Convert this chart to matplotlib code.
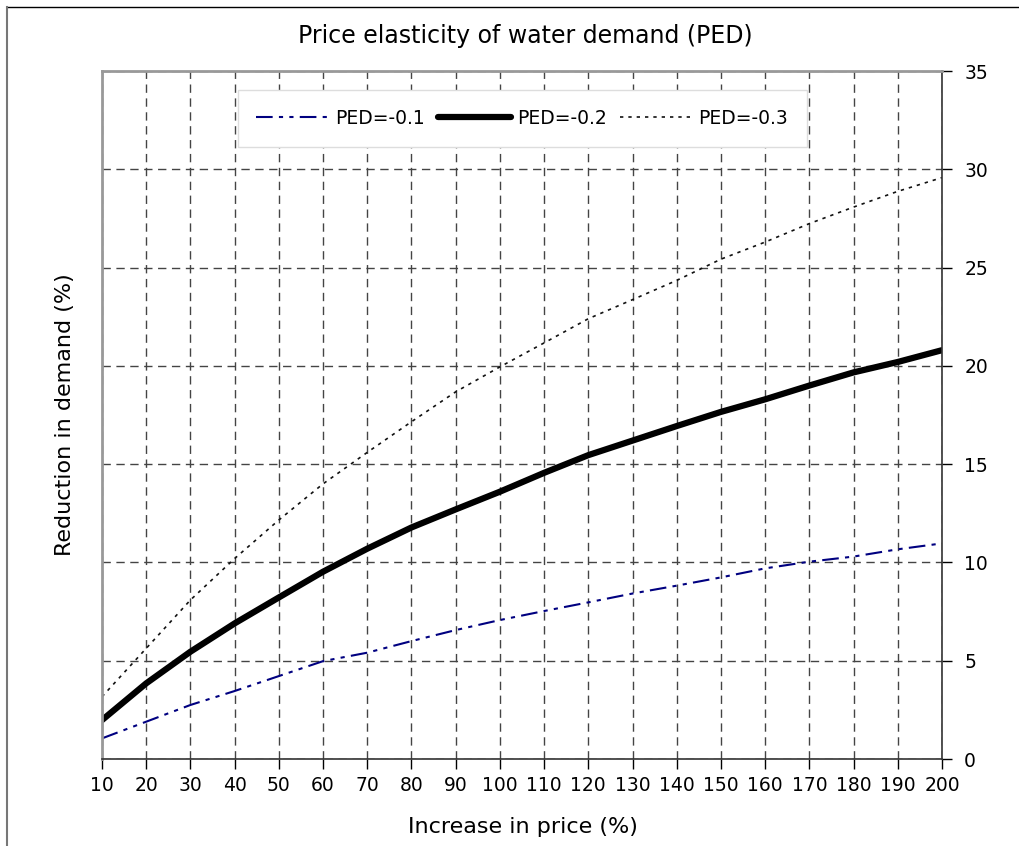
import matplotlib
matplotlib.use("Agg")
import matplotlib.pyplot as plt
from matplotlib.lines import Line2D

# Increase in price (%)
price_increase = list(range(10, 201, 10))

# Reduction in demand (%)
ped_01 = [1.05, 1.9, 2.75, 3.46, 4.22, 4.98, 5.41, 6.0, 6.56, 7.07,
          7.53, 7.97, 8.42, 8.82, 9.24, 9.7, 10.04, 10.3, 10.67, 10.97]
ped_02 = [1.98, 3.85, 5.46, 6.9, 8.22, 9.53, 10.7, 11.78, 12.7, 13.6,
          14.56, 15.46, 16.2, 16.94, 17.66, 18.3, 19.0, 19.67, 20.2, 20.8]
ped_03 = [3.17, 5.63, 8.09, 10.2, 12.16, 14.0, 15.6, 17.16, 18.68, 19.95,
          21.17, 22.4, 23.37, 24.35, 25.43, 26.3, 27.24, 28.08, 28.88, 29.58]

plt.rcParams["font.family"] = ["DejaVu Sans"]

fig = plt.figure(figsize=(10.2, 8.46), dpi=100)
ax = fig.add_axes([0.1, 0.1028, 0.8235, 0.8132])

ax.plot(price_increase, ped_01, color="#000080", lw=1.5,
        linestyle=(0, (8, 3, 2, 3, 2, 3)), label="PED=-0.1")
ax.plot(price_increase, ped_02, color="black", lw=4.5,
        solid_capstyle="round", label="PED=-0.2")
ax.plot(price_increase, ped_03, color="#111111", lw=1.2,
        linestyle=(0, (2, 3)), label="PED=-0.3")

ax.set_xlim(10, 200)
ax.set_ylim(0, 35)
ax.set_xticks(price_increase)
ax.set_yticks(range(0, 36, 5))
ax.yaxis.tick_right()
ax.tick_params(axis="both", direction="out", length=7, width=1,
               labelsize=13.5, colors="black", pad=5)
ax.tick_params(axis="y", pad=9)

ax.grid(True, color="#444444", linestyle=(0, (6, 4)), linewidth=1)
ax.set_axisbelow(True)

for side in ["left", "top"]:
    ax.spines[side].set_color("#999999")
    ax.spines[side].set_linewidth(2)
for side in ["right", "bottom"]:
    ax.spines[side].set_color("#333333")
    ax.spines[side].set_linewidth(1.2)

fig.text(0.515, 0.958, "Price elasticity of water demand (PED)",
         ha="center", va="center", fontsize=17)
fig.text(0.513, 0.022, "Increase in price (%)", ha="center", va="center",
         fontsize=16)
fig.text(0.064, 0.51, "Reduction in demand (%)", ha="center", va="center",
         rotation=90, fontsize=16)

leg = ax.legend(loc="center", bbox_to_anchor=(0.512, 0.86),
                bbox_transform=fig.transFigure, ncol=3, fontsize=13.5,
                frameon=True, fancybox=False, framealpha=1,
                edgecolor="#dddddd", handlelength=3.9, handletextpad=0.3,
                columnspacing=0.7, borderpad=1.0, borderaxespad=0.3)
leg.get_frame().set_linewidth(1)

# outer frame lines (top and left edge of the picture)
fig.add_artist(Line2D([0.007, 1], [0.992, 0.992], transform=fig.transFigure,
                      color="black", lw=1))
fig.add_artist(Line2D([0.007, 0.007], [0, 0.992], transform=fig.transFigure,
                      color="#777777", lw=1.5))

fig.savefig("out.png", dpi=100)
plt.close(fig)
